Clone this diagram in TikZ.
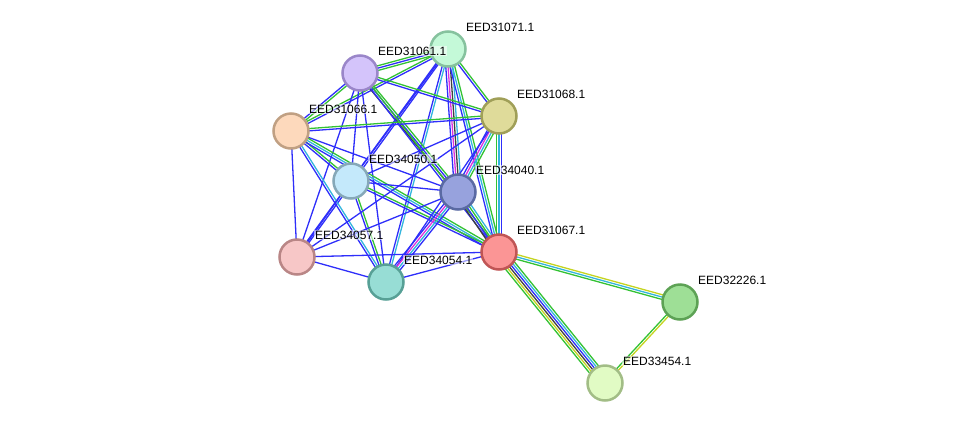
\documentclass[tikz,border=0pt]{standalone}
\usepackage{fontspec}
\setmainfont{Liberation Sans}
\usetikzlibrary{calc, backgrounds}
% evidence channels
\definecolor{cooc}  {HTML}{2E2EFA}
\definecolor{nbhood}{HTML}{33C233}
\definecolor{dbase} {HTML}{33B5DD}
\definecolor{expt}  {HTML}{DD33DD}
\definecolor{coexp} {HTML}{404040}
\definecolor{tmine} {HTML}{C4D420}
% protein fills and rims
\definecolor{f31071}{HTML}{C4F9D8}\definecolor{b31071}{HTML}{86C29E}
\definecolor{f31061}{HTML}{D4C4FB}\definecolor{b31061}{HTML}{9A86C9}
\definecolor{f31068}{HTML}{DFDB9A}\definecolor{b31068}{HTML}{A09F58}
\definecolor{f31066}{HTML}{FDD9BC}\definecolor{b31066}{HTML}{C0A083}
\definecolor{f34050}{HTML}{C4E9FB}\definecolor{b34050}{HTML}{86A8B8}
\definecolor{f34040}{HTML}{97A2DD}\definecolor{b34040}{HTML}{5A6AA3}
\definecolor{f31067}{HTML}{FB9595}\definecolor{b31067}{HTML}{C05555}
\definecolor{f34057}{HTML}{F7C7C7}\definecolor{b34057}{HTML}{B98686}
\definecolor{f34054}{HTML}{97DDD5}\definecolor{b34054}{HTML}{57A096}
\definecolor{f32226}{HTML}{9EDF96}\definecolor{b32226}{HTML}{5DA255}
\definecolor{f33454}{HTML}{E1FBC4}\definecolor{b33454}{HTML}{A2BD86}

\tikzset{
  prot/.style={circle, minimum size=35pt, inner sep=0pt, line width=2.5pt},
  plabel/.style={anchor=west, inner sep=1pt, fill=white, fill opacity=0.55,
    text opacity=1, font=\fontsize{12}{14}\selectfont},
  strand/.style={line width=1.3pt},
}

\begin{document}
\begin{tikzpicture}[x=1pt, y=-1pt]
    \useasboundingbox (0,0) rectangle (975,429);

    % proteins
    \foreach \id/\x/\y in {%
      31071/448/49, 31061/360/73, 31068/499/116, 31066/291/131,
      34050/351/181, 34040/458/192, 31067/499/252, 34057/297/257,
      34054/386/282, 32226/680/302, 33454/605/383}
      {\node[prot, fill=f\id, draw=b\id] (p\id) at (\x,\y) {};
       \node[plabel] (l\id) at ([shift={(17,-22)}]p\id.center) {EED\id.1};}

    % links, one strand per evidence channel
    \begin{scope}[on background layer]
    \foreach \p/\q/\cols in {%
      p31071/p31061/{nbhood,cooc,nbhood},
      p31071/p31068/{cooc,nbhood},
      p31071/p31066/{nbhood,cooc},
      p31071/p34050/{cooc},
      p31071/p34040/{cooc,expt,coexp,dbase},
      p31071/p31067/{cooc,dbase,nbhood},
      p31071/p34057/{cooc,cooc},
      p31071/p34054/{cooc,dbase},
      p31061/p31068/{cooc,nbhood},
      p31061/p31066/{cooc,nbhood},
      p31061/p34050/{cooc},
      p31061/p34040/{coexp,cooc,nbhood},
      p31061/p31067/{cooc,nbhood},
      p31061/p34057/{cooc},
      p31061/p34054/{cooc},
      p31066/p31068/{cooc,nbhood},
      p31066/p34050/{cooc,nbhood},
      p31066/p34040/{cooc},
      p31066/p31067/{cooc,dbase,nbhood},
      p31066/p34057/{cooc},
      p31066/p34054/{cooc,dbase},
      p34050/p31068/{cooc},
      p34050/p34040/{cooc},
      p34050/p31067/{cooc,nbhood},
      p34050/p34057/{cooc},
      p34050/p34054/{cooc,nbhood},
      p31068/p34040/{cooc,expt,dbase,nbhood},
      p31068/p31067/{nbhood,dbase,cooc},
      p31068/p34057/{cooc},
      p31068/p34054/{cooc},
      p34040/p31067/{coexp,cooc,nbhood,dbase},
      p34040/p34057/{cooc},
      p34040/p34054/{cooc,expt,dbase,cooc},
      p31067/p34057/{cooc},
      p31067/p34054/{cooc},
      p31067/p32226/{nbhood,dbase,tmine},
      p31067/p33454/{nbhood,tmine,coexp,cooc,dbase,nbhood},
      p32226/p33454/{nbhood,tmine},
      p34057/p34054/{cooc}}
      {\foreach \c [count=\k] in \cols {\xdef\nl{\k}}
       \foreach \c [count=\k] in \cols
         {\pgfmathsetmacro{\off}{(\k-(\nl+1)/2)*2.3}
          \draw[strand, \c] ($(\p)!\off pt!90:(\q)$) -- ($(\q)!\off pt!-90:(\p)$);}}
    \end{scope}
\end{tikzpicture}
\end{document}
